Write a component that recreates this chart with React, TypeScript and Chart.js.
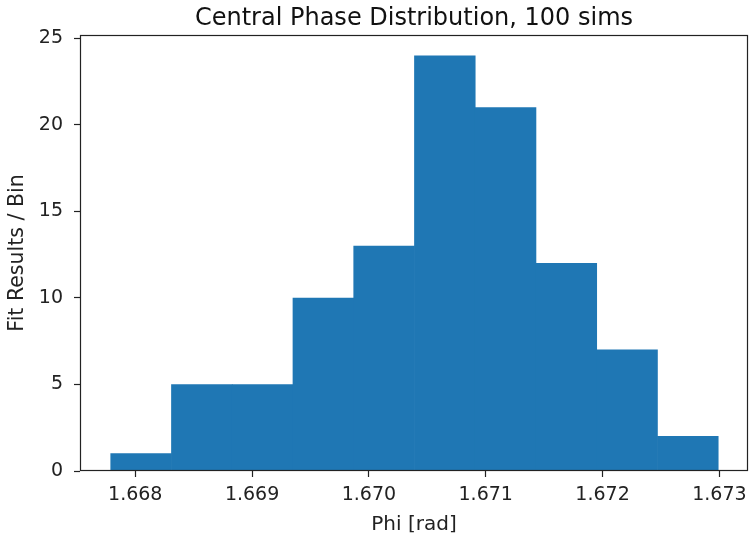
import React, { useEffect, useRef } from "react";
import { Chart, registerables } from "chart.js";

Chart.register(...registerables);

const binCenters = [1.66805, 1.66857, 1.66909, 1.66961, 1.67013, 1.67065, 1.67117, 1.67169, 1.67221, 1.67273];
const counts = [1, 5, 5, 10, 13, 24, 21, 12, 7, 2];
const xTicks = [1.668, 1.669, 1.67, 1.671, 1.672, 1.673];
const yTicks = [0, 5, 10, 15, 20, 25];
const xMin = 1.667527;
const xMax = 1.673245;
const yMax = 25.2;
const titleText = "Central Phase Distribution, 100 sims";

const FONT = "'DejaVu Sans', sans-serif";

const framePlugin = {
  id: "frame",
  afterDraw(chart: any) {
    const { ctx, chartArea } = chart;
    ctx.save();
    ctx.strokeStyle = "#222";
    ctx.lineWidth = 1.2;
    ctx.strokeRect(
      Math.round(chartArea.left) + 0.5,
      Math.round(chartArea.top) + 0.5,
      Math.round(chartArea.right - chartArea.left) - 1,
      Math.round(chartArea.bottom - chartArea.top) - 1
    );
    // title centred over the plot area
    ctx.fillStyle = "#111";
    ctx.font = `24px ${FONT}`;
    ctx.textAlign = "center";
    ctx.textBaseline = "alphabetic";
    ctx.fillText(titleText, (chartArea.left + chartArea.right) / 2, 25);
    ctx.restore();
  },
};

export default function App() {
  const ref = useRef<HTMLCanvasElement>(null);
  useEffect(() => {
    if (!ref.current) return;
    const chart = new Chart(ref.current, {
      type: "bar",
      data: {
        datasets: [
          {
            data: binCenters.map((x, i) => ({ x, y: counts[i] })),
            backgroundColor: "#1f77b4",
            borderWidth: 0,
            barPercentage: 1,
            categoryPercentage: 1,
          },
        ],
      },
      plugins: [framePlugin],
      options: {
        responsive: false,
        animation: false,
        layout: { padding: { left: 0, right: 2, top: 35, bottom: 0 } },
        plugins: {
          legend: { display: false },
          tooltip: { enabled: false },
          title: { display: false },
        },
        scales: {
          x: {
            type: "linear",
            min: xMin,
            max: xMax,
            offset: false,
            grid: {
              offset: false,
              drawOnChartArea: false,
              drawTicks: true,
              tickLength: 6,
              tickColor: "#222",
              tickWidth: 1.2,
            },
            border: { display: false },
            afterBuildTicks: (scale: any) => {
              scale.ticks = xTicks.map((v) => ({ value: v }));
            },
            afterFit: (scale: any) => {
              scale.height = 66;
              scale.paddingLeft = 0;
              scale.paddingRight = 0;
            },
            ticks: {
              color: "#222",
              font: { family: FONT, size: 19 },
              padding: 6.4,
              maxRotation: 0,
              autoSkip: false,
              callback: (v: any) => Number(v).toFixed(3),
            },
            title: {
              display: true,
              text: "Phi [rad]",
              color: "#222",
              font: { family: FONT, size: 20 },
              padding: { top: 0, bottom: 0 },
            },
          },
          y: {
            type: "linear",
            min: 0,
            max: yMax,
            grid: {
              drawOnChartArea: false,
              drawTicks: true,
              tickLength: 6,
              tickColor: "#222",
              tickWidth: 1.2,
            },
            border: { display: false },
            afterBuildTicks: (scale: any) => {
              scale.ticks = yTicks.map((v) => ({ value: v }));
            },
            afterFit: (scale: any) => {
              scale.width = 80;
              scale.paddingTop = 0;
              scale.paddingBottom = 0;
            },
            ticks: {
              color: "#222",
              font: { family: FONT, size: 19 },
              padding: 11,
              autoSkip: false,
              callback: (v: any) => String(v),
            },
            title: {
              display: true,
              text: "Fit Results / Bin",
              color: "#222",
              font: { family: FONT, size: 20.5 },
              padding: { top: 5.6, bottom: 0 },
            },
          },
        },
      },
    } as any);
    return () => chart.destroy();
  }, []);
  return (
    <div style={{ position: "absolute", left: 0, top: 0, width: 750, height: 537 }}>
      <canvas ref={ref} width={750} height={537} />
    </div>
  );
}
